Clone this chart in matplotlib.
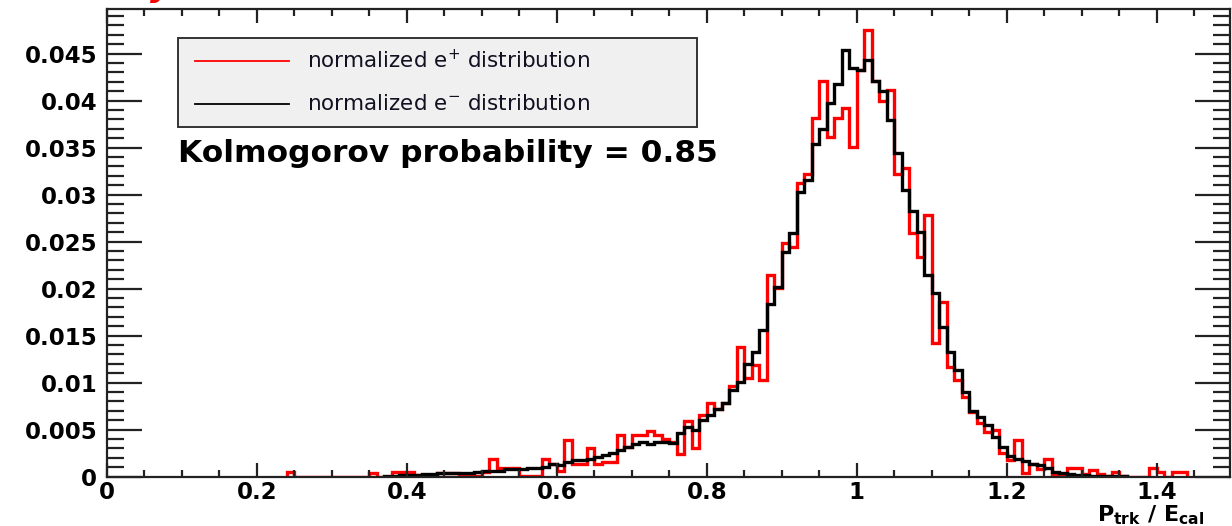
import numpy as np
import matplotlib
matplotlib.use('Agg')
import matplotlib.pyplot as plt
from matplotlib.patches import Rectangle
from matplotlib.lines import Line2D
from matplotlib.ticker import MultipleLocator, FuncFormatter

plt.rcParams['font.family'] = ['DejaVu Sans']
plt.rcParams['mathtext.default'] = 'regular'

W, H = 1232, 526

# histogram binning: 0.01 wide bins, values listed from the first non-empty bin
BIN_WIDTH = 0.01
POS_FIRST_BIN = 24
ELE_FIRST_BIN = 37

# normalized e+ distribution, bins 0.24 .. 1.43
pos_vals = [
    0.0005, 0, 0, 0, 0, 0, 0, 0, 0, 0, 0, 0.0004, 0, 0, 0.0005, 0.0005,      # 0.24-0.39
    0.0005, 0.0002, 0.0002, 0.0002, 0.0004, 0.0004, 0.0004, 0.0001, 0.0001, 0.0001,  # 0.40-0.49
    0.0005, 0.0019, 0.0009, 0.0009, 0.0009, 0.0001, 0.0001, 0.0001, 0.0019, 0.0013,  # 0.50-0.59
    0.0006, 0.0039, 0.0013, 0.0013, 0.0030, 0.0014, 0.0016, 0.0016, 0.0044, 0.0032,  # 0.60-0.69
    0.0044, 0.0044, 0.0049, 0.0044, 0.0040, 0.0037, 0.0024, 0.0059, 0.0030, 0.0066,  # 0.70-0.79
    0.0078, 0.0072, 0.0078, 0.0096, 0.0138, 0.0105, 0.0119, 0.0103, 0.0214, 0.0201,  # 0.80-0.89
    0.0248, 0.0244, 0.0312, 0.0322, 0.0381, 0.0421, 0.0361, 0.0381, 0.0392, 0.0351,  # 0.90-0.99
    0.0432, 0.0475, 0.0421, 0.0400, 0.0411, 0.0322, 0.0328, 0.0259, 0.0234, 0.0278,  # 1.00-1.09
    0.0142, 0.0186, 0.0117, 0.0103, 0.0085, 0.0069, 0.0057, 0.0048, 0.0050, 0.0025,  # 1.10-1.19
    0.0018, 0.0039, 0.0004, 0.0013, 0.0008, 0.0019, 0.0002, 0.0003, 0.0009, 0.0009,  # 1.20-1.29
    0.0003, 0.0007, 0.0003, 0.0001, 0.0005, 0.0001, 0, 0, 0, 0.0009,                 # 1.30-1.39
    0.0005, 0, 0.0005, 0.0005,                                                       # 1.40-1.43
]

# normalized e- distribution, bins 0.37 .. 1.35
ele_vals = [
    0.0001, 0.0001, 0.0002,                                                          # 0.37-0.39
    0.0002, 0.0002, 0.0003, 0.0003, 0.0004, 0.0004, 0.0004, 0.0004, 0.0004, 0.0005,  # 0.40-0.49
    0.0006, 0.0006, 0.0006, 0.0008, 0.0008, 0.0008, 0.0009, 0.0009, 0.0010, 0.0013,  # 0.50-0.59
    0.0012, 0.0016, 0.0018, 0.0018, 0.0019, 0.0021, 0.0023, 0.0025, 0.0028, 0.0032,  # 0.60-0.69
    0.0035, 0.0037, 0.0035, 0.0037, 0.0037, 0.0036, 0.0046, 0.0053, 0.0050, 0.0060,  # 0.70-0.79
    0.0066, 0.0072, 0.0078, 0.0092, 0.0101, 0.0120, 0.0133, 0.0156, 0.0184, 0.0202,  # 0.80-0.89
    0.0239, 0.0259, 0.0303, 0.0315, 0.0354, 0.0370, 0.0397, 0.0418, 0.0454, 0.0435,  # 0.90-0.99
    0.0432, 0.0443, 0.0421, 0.0410, 0.0379, 0.0344, 0.0305, 0.0282, 0.0260, 0.0214,  # 1.00-1.09
    0.0195, 0.0159, 0.0133, 0.0113, 0.0090, 0.0070, 0.0063, 0.0055, 0.0042, 0.0032,  # 1.10-1.19
    0.0022, 0.0019, 0.0017, 0.0014, 0.0012, 0.0009, 0.0005, 0.0004, 0.0003, 0.0002,  # 1.20-1.29
    0.0002, 0.0001, 0.0001, 0.0001, 0.0001, 0.0001,                                  # 1.30-1.35
]

pos_label = r'normalized e$^{+}$ distribution'
ele_label = r'normalized e$^{-}$ distribution'
ks_text = 'Kolmogorov probability = 0.85'
x_title = r'P$_{trk}$ / E$_{cal}$'


def bin_edges(first_bin, vals):
    return BIN_WIDTH * (np.arange(len(vals) + 1) + first_bin)


def fx(px):
    return px / W


def fy(py):
    return 1 - py / H


fig = plt.figure(figsize=(W / 100, H / 100), dpi=100)
ax = fig.add_axes([fx(107), fy(476.7), fx(1229.5) - fx(107), fy(9.3) - fy(476.7)])

ax.stairs(pos_vals, bin_edges(POS_FIRST_BIN, pos_vals), color='#ff0000', lw=2.4)
ax.stairs(ele_vals, bin_edges(ELE_FIRST_BIN, ele_vals), color='black', lw=2.4)

ax.set_xlim(0, 1.497)
ax.set_ylim(0, 0.0497)

ax.xaxis.set_major_locator(MultipleLocator(0.2))
ax.xaxis.set_minor_locator(MultipleLocator(0.05))
ax.yaxis.set_major_locator(MultipleLocator(0.005))
ax.yaxis.set_minor_locator(MultipleLocator(0.001))
ax.xaxis.set_major_formatter(FuncFormatter(lambda v, p: '%g' % round(v, 3)))
ax.yaxis.set_major_formatter(FuncFormatter(lambda v, p: '%g' % round(v, 4)))

ax.tick_params(which='both', direction='in', top=True, right=True, width=1.6, color='#222222')
ax.tick_params(axis='y', which='major', length=25)
ax.tick_params(axis='y', which='minor', length=12)
ax.tick_params(axis='x', which='major', length=10)
ax.tick_params(axis='x', which='minor', length=5)
ax.tick_params(axis='y', labelsize=16.5, pad=7)
ax.tick_params(axis='x', labelsize=16.5, pad=3)
for t in ax.get_xticklabels() + ax.get_yticklabels():
    t.set_fontweight('bold')
for s in ax.spines.values():
    s.set_linewidth(1.6)
    s.set_color('#222222')

# legend box drawn by hand to follow the ROOT TLegend layout
fig.add_artist(Rectangle((fx(178), fy(126.7)), fx(697) - fx(178), fy(38.3) - fy(126.7),
                         transform=fig.transFigure, facecolor='#f0f0f0',
                         edgecolor='#333333', lw=1.4))
for label, color, yy in [(pos_label, '#ff0000', 60.7), (ele_label, 'black', 104)]:
    fig.add_artist(Line2D([fx(195), fx(289)], [fy(yy), fy(yy)], color=color, lw=1.3,
                          transform=fig.transFigure))
    fig.text(fx(307), fy(yy), label, fontsize=15.5, color='#111122',
             ha='left', va='center')

fig.text(fx(178), fy(154), ks_text, fontsize=22.5, fontweight='bold',
         ha='left', va='center')

fig.text(fx(1097), fy(515), x_title, fontsize=16, fontweight='bold',
         ha='left', va='center')

# cut-off red title fragment at the top edge of the slide
fig.text(fx(150), fy(3), 'y', color='#ff0000', fontsize=24,
         fontweight='bold', style='italic', ha='left', va='bottom')

fig.savefig('out.png', dpi=100)
